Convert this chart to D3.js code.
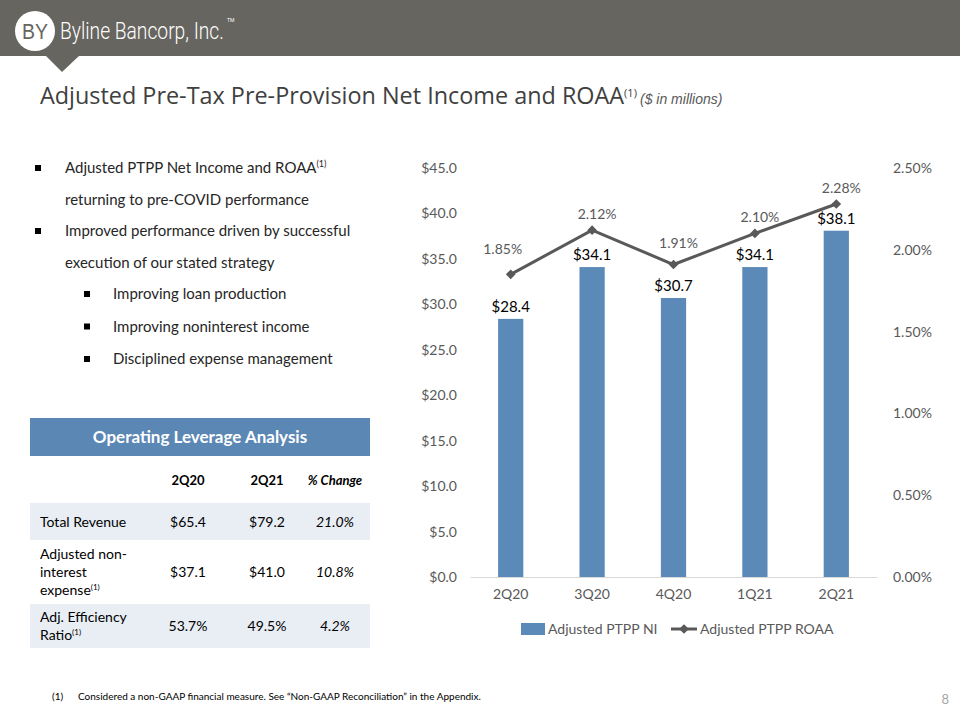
<!DOCTYPE html>
<html><head><meta charset="utf-8">
<script src="https://cdn.jsdelivr.net/npm/d3@7"></script>
<style>
html,body{margin:0;padding:0;background:#fff;}
svg{display:block;}
</style></head>
<body>
<svg id="c" width="960" height="720"></svg>
<script>
// ---- DATA ----
const categories = ["2Q20","3Q20","4Q20","1Q21","2Q21"];
const ptppNI = [28.4, 34.1, 30.7, 34.1, 38.1];
const ptppROAA = [1.85, 2.12, 1.91, 2.10, 2.28];
const leftTicks = [0,5,10,15,20,25,30,35,40,45];
const rightTicks = [0,0.5,1.0,1.5,2.0,2.5];
const seriesNames = ["Adjusted PTPP NI","Adjusted PTPP ROAA"];

const tableCols = ["2Q20","2Q21","% Change"];
const tableRowLabels = [["Total Revenue"],["Adjusted non-","interest","expense"],["Adj. Efficiency","Ratio"]];
const tableRowSup = [false,true,true];
const table2Q20 = ["$65.4","$37.1","53.7%"];
const table2Q21 = ["$79.2","$41.0","49.5%"];
const tableChange = ["21.0%","10.8%","4.2%"];

const bullets = [
  {lvl:0, lines:["Adjusted PTPP Net Income and ROAA|(1)","returning to pre-COVID performance"]},
  {lvl:0, lines:["Improved performance driven by successful","execution of our stated strategy"]},
  {lvl:1, lines:["Improving loan production"]},
  {lvl:1, lines:["Improving noninterest income"]},
  {lvl:1, lines:["Disciplined expense management"]}
];

const svg = d3.select("#c");
const F = "Lato, 'Open Sans', sans-serif";

// ---- Header band ----
svg.append("rect").attr("x",0).attr("y",0).attr("width",960).attr("height",56).attr("fill","#67655f");
svg.append("path").attr("d","M45,55 L80,55 L62,72 Z").attr("fill","#67655f");
svg.append("circle").attr("cx",35).attr("cy",31).attr("r",20).attr("fill","#fff");
svg.append("text").attr("x",35).attr("y",39).attr("text-anchor","middle")
  .attr("font-family","'Liberation Sans', Arial, sans-serif").attr("font-size",22).attr("fill","#67655f")
  .attr("textLength",26).attr("lengthAdjust","spacingAndGlyphs").text("BY");
const logoG = svg.append("g");
const logoT = logoG.append("text").attr("x",0).attr("y",0)
  .attr("font-family","Roboto, sans-serif").attr("font-weight",300).attr("font-size",23).attr("fill","#fff")
  .text("Byline Bancorp, Inc.");
const natW = logoT.node().getComputedTextLength() || 190;
logoG.attr("transform",`translate(60,39) scale(${164/natW},1)`);
svg.append("text").attr("x",227).attr("y",22).attr("font-family","Roboto, sans-serif").attr("font-size",5).attr("fill","#fff").text("TM");

// ---- Title ----
const title = svg.append("text").attr("x",40).attr("y",104).attr("font-family","'Open Sans', sans-serif").attr("fill","#404040");
title.append("tspan").attr("font-size",23.4).text("Adjusted Pre-Tax Pre-Provision Net Income and ROAA");
title.append("tspan").attr("font-size",11).attr("dy",-7).text("(1)");
svg.append("text").attr("x",640).attr("y",104).attr("font-family","Arial, 'Liberation Sans', sans-serif")
  .attr("font-style","italic").attr("font-size",14).attr("fill","#595959").text("($ in millions)");

// ---- Bullets ----
let by = 173;
bullets.forEach(b=>{
  const bx = b.lvl===0 ? 38 : 87;
  const tx = b.lvl===0 ? 65 : 113;
  svg.append("rect").attr("x",bx-3).attr("y",by-8).attr("width",6).attr("height",6).attr("fill","#000");
  b.lines.forEach((ln,i)=>{
    const t = svg.append("text").attr("x",tx).attr("y",by).attr("font-family",F).attr("font-size",15).attr("fill","#262626");
    const parts = ln.split("|");
    t.append("tspan").text(parts[0]);
    if(parts[1]) t.append("tspan").attr("font-size",9).attr("dy",-6).text(parts[1]);
    by += (b.lvl===0 ? 31.5 : 32.5);
  });
});

// ---- Table ----
svg.append("rect").attr("x",30).attr("y",418).attr("width",340).attr("height",38).attr("fill","#5b87b5");
svg.append("text").attr("x",200).attr("y",443).attr("text-anchor","middle").attr("font-family",F)
  .attr("font-weight",700).attr("font-size",17).attr("fill","#fff").text("Operating Leverage Analysis");
const colX = [188,267,335];
tableCols.forEach((c,i)=>{
  svg.append("text").attr("x",colX[i]).attr("y",485).attr("text-anchor","middle").attr("font-family",F)
    .attr("font-weight",700).attr("font-style",i===2?"italic":"normal").attr("font-size",13).attr("fill","#000").text(c);
});
const rowTop = [503,540,604];
const rowH = [37,64,44];
tableRowLabels.forEach((lines,r)=>{
  if(r!==1) svg.append("rect").attr("x",30).attr("y",rowTop[r]).attr("width",340).attr("height",rowH[r]).attr("fill","#e9edf4");
  const cy = rowTop[r]+rowH[r]/2;
  const lh = 18;
  const start = cy - (lines.length-1)*lh/2 + 5;
  lines.forEach((ln,i)=>{
    const t = svg.append("text").attr("x",40).attr("y",start+i*lh).attr("font-family",F).attr("font-size",14).attr("fill","#000");
    t.append("tspan").text(ln);
    if(i===lines.length-1 && tableRowSup[r]) t.append("tspan").attr("font-size",8).attr("dy",-5).text("(1)");
  });
  [table2Q20[r],table2Q21[r],tableChange[r]].forEach((v,i)=>{
    svg.append("text").attr("x",colX[i]).attr("y",cy+5).attr("text-anchor","middle").attr("font-family",F)
      .attr("font-style",i===2?"italic":"normal").attr("font-size",14).attr("fill","#000").text(v);
  });
});

// ---- Chart ----
const x = d3.scaleBand().domain(categories).range([470,877]).paddingInner(0.69).paddingOuter(0.345);
const yL = d3.scaleLinear().domain([0,45]).range([577,168]);
const yR = d3.scaleLinear().domain([0,2.5]).range([577,168]);
const cx = d => x(d)+x.bandwidth()/2;

const axL = svg.append("g").attr("transform","translate(470,0)")
  .call(d3.axisLeft(yL).tickValues(leftTicks).tickSize(0).tickPadding(13).tickFormat(d=>"$"+d3.format(".1f")(d)));
axL.select(".domain").remove();
axL.selectAll("text").attr("font-family",F).attr("font-size",14).attr("fill","#595959");

const axR = svg.append("g").attr("transform","translate(877,0)")
  .call(d3.axisRight(yR).tickValues(rightTicks).tickSize(0).tickPadding(16).tickFormat(d=>d3.format(".2f")(d)+"%"));
axR.select(".domain").remove();
axR.selectAll("text").attr("font-family",F).attr("font-size",14).attr("fill","#595959");

svg.selectAll(".bar").data(ptppNI).enter().append("rect")
  .attr("x",(d,i)=>x(categories[i])).attr("y",d=>yL(d))
  .attr("width",x.bandwidth()).attr("height",d=>yL(0)-yL(d)).attr("fill","#5b8ab8");

const axB = svg.append("g").attr("transform","translate(0,577)")
  .call(d3.axisBottom(x).tickSize(0).tickPadding(12));
axB.select(".domain").attr("stroke","#d9d9d9").attr("stroke-width",1);
axB.selectAll("text").attr("font-family",F).attr("font-size",14).attr("fill","#595959");

svg.selectAll(".blab").data(ptppNI).enter().append("text")
  .attr("x",(d,i)=>cx(categories[i])).attr("y",d=>yL(d)-7).attr("text-anchor","middle")
  .attr("font-family",F).attr("font-size",15).attr("fill","#000").text(d=>"$"+d3.format(".1f")(d));

const line = d3.line().x((d,i)=>cx(categories[i])).y(d=>yR(d));
svg.append("path").datum(ptppROAA).attr("d",line).attr("fill","none").attr("stroke","#595959").attr("stroke-width",3);
const diamond = d3.symbol().type(d3.symbolDiamond2).size(60);
svg.selectAll(".pt").data(ptppROAA).enter().append("path")
  .attr("transform",(d,i)=>`translate(${cx(categories[i])},${yR(d)})`).attr("d",diamond).attr("fill","#595959");
svg.selectAll(".llab").data(ptppROAA).enter().append("text")
  .attr("x",(d,i)=>cx(categories[i]) + (i===0?-8:5)).attr("y",(d,i)=>yR(d)-(i===0?20:i===2?17:11)).attr("text-anchor","middle")
  .attr("font-family",F).attr("font-size",14).attr("fill","#595959").text(d=>d3.format(".2f")(d)+"%");

// ---- Legend ----
const lg = svg.append("g");
lg.append("rect").attr("x",521).attr("y",623).attr("width",24).attr("height",12).attr("fill","#5b8ab8");
lg.append("text").attr("x",548).attr("y",634).attr("font-family",F).attr("font-size",14).attr("fill","#595959").text(seriesNames[0]);
lg.append("line").attr("x1",671).attr("x2",697).attr("y1",629).attr("y2",629).attr("stroke","#595959").attr("stroke-width",3);
lg.append("path").attr("transform","translate(684,629)").attr("d",diamond).attr("fill","#595959");
lg.append("text").attr("x",700).attr("y",634).attr("font-family",F).attr("font-size",14).attr("fill","#595959").text(seriesNames[1]);

// ---- Footnote ----
svg.append("text").attr("x",52).attr("y",700).attr("font-family",F).attr("font-size",10).attr("fill","#000").text("(1)");
svg.append("text").attr("x",78).attr("y",700).attr("font-family",F).attr("font-size",10).attr("fill","#000")
  .text("Considered a non-GAAP financial measure. See \u201cNon-GAAP Reconciliation\u201d in the Appendix.");
svg.append("text").attr("x",949).attr("y",704).attr("text-anchor","end").attr("font-family",F).attr("font-size",13).attr("fill","#a6a6a6").text("8");
</script>
</body></html>
